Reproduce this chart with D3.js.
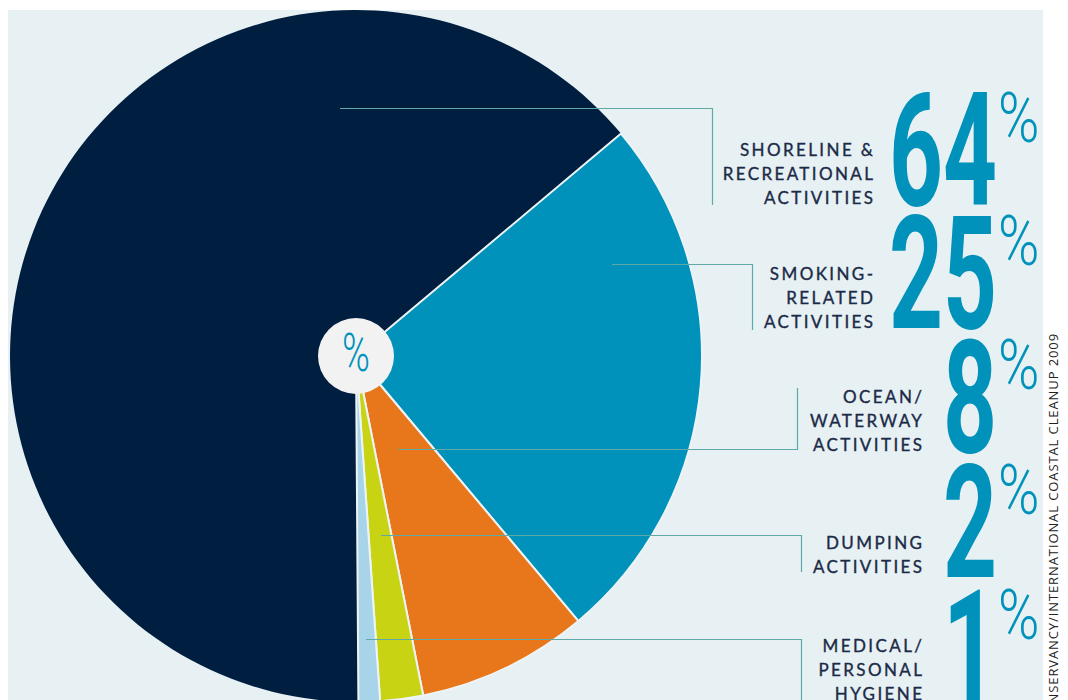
<!DOCTYPE html>
<html>
<head>
<meta charset="utf-8">
<script src="https://cdn.jsdelivr.net/npm/d3@7"></script>
<style>
  html, body { margin: 0; padding: 0; background: #fff; }
  svg { display: block; }
</style>
</head>
<body>
<svg id="chart" width="1068" height="700"></svg>
<script>
// data
const categories = ['Shoreline & recreational activities', 'Smoking-related activities', 'Ocean/waterway activities', 'Dumping activities', 'Medical/personal hygiene'];
const labelLines = [
  ['SHORELINE &', 'RECREATIONAL', 'ACTIVITIES'],
  ['SMOKING-', 'RELATED', 'ACTIVITIES'],
  ['OCEAN/', 'WATERWAY', 'ACTIVITIES'],
  ['DUMPING', 'ACTIVITIES'],
  ['MEDICAL/', 'PERSONAL', 'HYGIENE']
];
const values = [64, 25, 8, 2, 1];
const colors = ['#001e40', '#0092bb', '#e8761a', '#c8d314', '#a8d4ea'];
const sourceText = 'SOURCE: OCEAN CONSERVANCY/INTERNATIONAL COASTAL CLEANUP 2009';

// layout
const W = 1068, H = 700;
const cx = 356, cy = 356, R = 346;
const blueStartDeg = 50;
const labelRight = [873, 873, 922, 922, 922];
const labelTop = [156, 280, 403, 549, 652];
const lineGap = 24;
const numRight = 997;
const numBase = [205, 328, 452, 577, 702];
const leaderY = [108, 264, 449, 535, 639];
const leaderX0 = [340, 612, 398, 381, 366];
const leaderXv = [712, 752, 797, 801, 801];
const leaderYEnd = [205, 330, 388, 572, 712];

const svg = d3.select('#chart');

// panel
svg.append('rect')
  .attr('x', 8).attr('y', 10)
  .attr('width', 1035).attr('height', H - 10)
  .attr('fill', '#e7f0f3');

// pie
const total = d3.sum(values);
const start = blueStartDeg * Math.PI / 180 - 2 * Math.PI * values[0] / total;
const pie = d3.pie().sort(null).value(d => d)
  .startAngle(start).endAngle(start + 2 * Math.PI);
const arc = d3.arc().innerRadius(0).outerRadius(R);

const g = svg.append('g').attr('transform', `translate(${cx},${cy})`);
g.selectAll('path')
  .data(pie(values))
  .enter()
  .append('path')
  .attr('d', arc)
  .attr('fill', (d, i) => colors[i])
  .attr('stroke', (d, i) => i === 0 ? 'none' : '#eef4f6')
  .attr('stroke-width', 2)
  .attr('stroke-linejoin', 'round');

// center badge
g.append('circle').attr('r', 38).attr('fill', '#f2f2f2');
g.append('text')
  .attr('text-anchor', 'middle')
  .attr('y', 15)
  .attr('transform', 'scale(0.7,1)')
  .style('font-family', 'Roboto')
  .style('font-weight', 300)
  .style('font-size', '54px')
  .attr('fill', '#0092bb')
  .text('%');

// leader lines
const leaders = svg.append('g');
values.forEach((v, i) => {
  leaders.append('path')
    .attr('fill', 'none')
    .attr('stroke', '#5faaa9')
    .attr('stroke-width', 1.2)
    .attr('d', `M${leaderX0[i]},${leaderY[i] + 0.5} H${leaderXv[i] + 0.5} V${leaderYEnd[i]}`);
});

// category labels
const ls = 2.4;
labelLines.forEach((lines, i) => {
  const t = svg.append('text')
    .attr('text-anchor', 'end')
    .style('font-family', 'Lato')
    .style('font-size', '17px')
    .style('letter-spacing', ls + 'px')
    .attr('fill', '#1b2a47')
    .attr('stroke', '#1b2a47')
    .attr('stroke-width', 0.35);
  lines.forEach((s, j) => {
    t.append('tspan')
      .attr('x', labelRight[i] + ls)
      .attr('y', labelTop[i] + j * lineGap)
      .text(s);
  });
});

// big numbers
const sx = 0.6;
values.forEach((v, i) => {
  svg.append('g')
    .attr('transform', `translate(${numRight},${numBase[i]}) scale(${sx},1)`)
    .append('text')
    .attr('text-anchor', 'end')
    .style('font-family', 'Roboto')
    .style('font-weight', 700)
    .style('font-size', '157px')
    .attr('fill', '#0092bb')
    .text(v);
  svg.append('g')
    .attr('transform', `translate(${numRight + 1},${numBase[i] - 63}) scale(0.8,1)`)
    .append('text')
    .style('font-family', 'Roboto')
    .style('font-weight', 300)
    .style('font-size', '70px')
    .attr('fill', '#0092bb')
    .text('%');
});

// source
svg.append('text')
  .attr('transform', 'translate(1058,333) rotate(-90)')
  .attr('text-anchor', 'end')
  .style('font-family', 'Open Sans')
  .style('font-size', '13px')
  .style('letter-spacing', '0.9px')
  .attr('fill', '#222')
  .text(sourceText);
</script>
</body>
</html>
